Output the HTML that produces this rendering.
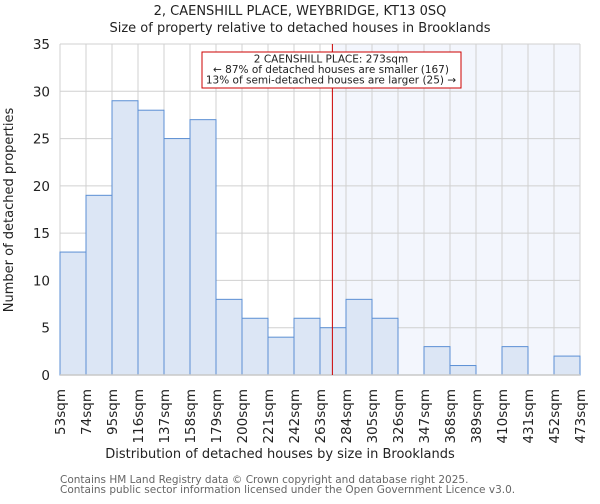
<!DOCTYPE html>
<html><head><meta charset="utf-8"><style>
body{margin:0;background:#fff;font-family:"DejaVu Sans","Liberation Sans",sans-serif;}
</style></head><body>
<svg width="600" height="500" xmlns="http://www.w3.org/2000/svg" font-family="DejaVu Sans, Liberation Sans, sans-serif">
<text x="300" y="15" text-anchor="middle" font-size="13" fill="#222">2, CAENSHILL PLACE, WEYBRIDGE, KT13 0SQ</text>
<text x="300" y="32" text-anchor="middle" font-size="13" fill="#222">Size of property relative to detached houses in Brooklands</text>
<g id="plot"></g>
<text x="280" y="458" text-anchor="middle" font-size="13" fill="#222">Distribution of detached houses by size in Brooklands</text>
<text transform="translate(13,210) rotate(-90)" text-anchor="middle" font-size="13" fill="#222">Number of detached properties</text>
<text x="60" y="483" font-size="10.5" fill="#666">Contains HM Land Registry data © Crown copyright and database right 2025.</text>
<text x="60" y="493" font-size="10.5" fill="#666">Contains public sector information licensed under the Open Government Licence v3.0.</text>
</svg>
<script>
const binStarts=[53,74,95,116,137,158,179,200,221,242,263,284,305,326,347,368,389,410,431,452];
const counts=[13,19,29,28,25,27,8,6,4,6,5,8,6,0,3,1,0,3,0,2];
const tickLabels=["53sqm","74sqm","95sqm","116sqm","137sqm","158sqm","179sqm","200sqm","221sqm","242sqm","263sqm","284sqm","305sqm","326sqm","347sqm","368sqm","389sqm","410sqm","431sqm","452sqm","473sqm"];
const yTicks=[0,5,10,15,20,25,30,35];
const markerValue=273;
const NS="http://www.w3.org/2000/svg";
const L=60,R=580,T=44,B=375,binW=21,xMin=53,xMax=473,yMax=35;
const x=v=>L+(v-xMin)/(xMax-xMin)*(R-L);
const y=v=>B-v/yMax*(B-T);
const g=document.getElementById('plot');
function mk(tag,at){const e=document.createElementNS(NS,tag);for(const k in at)e.setAttribute(k,at[k]);g.appendChild(e);return e;}
let e;
e=mk('rect',{x:x(markerValue),y:T,width:R-x(markerValue),height:B-T,fill:'#f3f6fd'});


tickLabels.forEach((t,i)=>{const xv=x(xMin+i*binW);
e=mk('line',{x1:xv,x2:xv,y1:T,y2:B,stroke:'#d0d0d0','stroke-width':1});


e=mk('text',{transform:`translate(${xv+5},389) rotate(-90)`,'text-anchor':'end','font-size':13.5,fill:'#222'});e.textContent=t;


});
yTicks.forEach(v=>{
e=mk('line',{x1:L,x2:R,y1:y(v),y2:y(v),stroke:'#d0d0d0','stroke-width':1});


e=mk('text',{x:50,y:y(v)+5,'text-anchor':'end','font-size':13.5,fill:'#222'});e.textContent=v;


});
binStarts.forEach((s,i)=>{if(!counts[i])return;
e=mk('rect',{x:x(s),y:y(counts[i]),width:x(s+binW)-x(s),height:B-y(counts[i]),fill:'#dce6f5',stroke:'#5b8fd4','stroke-width':1});


});
e=mk('line',{x1:L,x2:R,y1:B,y2:B,stroke:'#c8c8c8','stroke-width':1.5});


e=mk('line',{x1:x(markerValue),x2:x(markerValue),y1:T,y2:B,stroke:'#cc0000','stroke-width':1});


e=mk('rect',{x:202,y:52,width:259,height:36,fill:'#fff',stroke:'#cc0000','stroke-width':1});


["2 CAENSHILL PLACE: 273sqm","← 87% of detached houses are smaller (167)","13% of semi-detached houses are larger (25) →"].forEach((t,i)=>{
e=mk('text',{x:331,y:62.5+i*10.5,'text-anchor':'middle','font-size':10.5,fill:'#222'});e.textContent=t;


});
</script>
</body></html>
